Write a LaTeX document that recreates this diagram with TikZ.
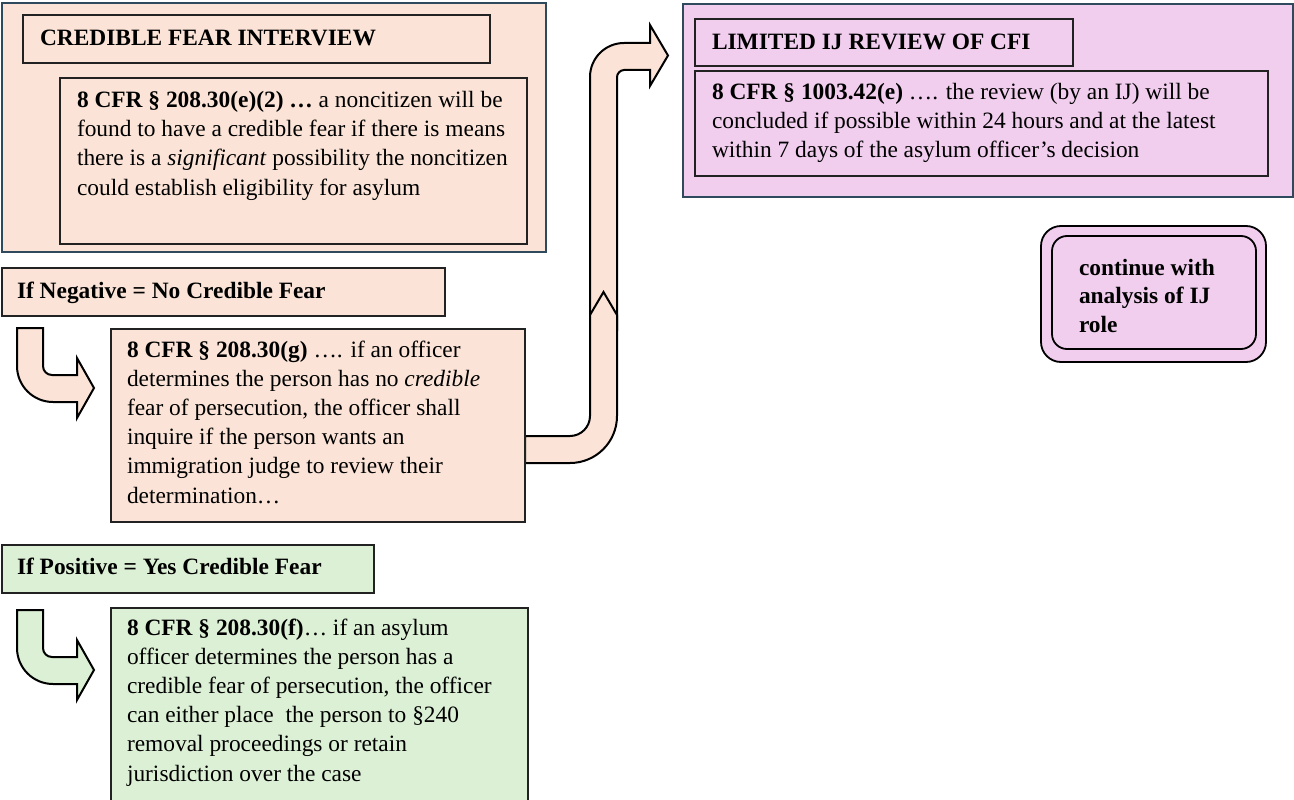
\documentclass[tikz,border=0pt]{standalone}
\usepackage{fontspec}
\setmainfont{Liberation Serif}
\definecolor{peach}{HTML}{FBE4D7}
\definecolor{mint}{HTML}{DCF0D5}
\definecolor{orchid}{HTML}{F1CDEE}
\definecolor{slate}{HTML}{2E4A5C}
\definecolor{ink}{HTML}{222222}
\newcommand\fst{\rule{0pt}{20pt}}
\tikzset{
  panel/.style={draw=slate, line width=2pt, inner sep=0pt, outer sep=0pt, anchor=north west},
  card/.style={draw=ink, line width=2.5pt, inner sep=0pt, outer sep=0pt, anchor=north west},
  txt/.style={inner sep=0pt, outer sep=0pt, anchor=north west, align=left,
    font=\fontsize{23.4}{29.2}\selectfont},
  blockarrow/.style={draw=black, line width=2pt, line join=miter, fill=#1},
}
\begin{document}
\begin{tikzpicture}[x=1pt,y=-1pt]
\useasboundingbox (0,0) rectangle (1294,800);
\clip (0,0) rectangle (1294,800);

% ---- block arrows ----
% bent arrow into the negative-finding card
\path[blockarrow=peach] (17,328) -- (43,328) -- (43,366)
  .. controls (43,371) and (47,375) .. (52,375) -- (77,375) -- (77,358)
  -- (94,388) -- (77,418) -- (77,402) -- (53,402)
  .. controls (33.1,402) and (17,385.9) .. (17,366) -- cycle;
% bent arrow into the positive-finding card
\begin{scope}[shift={(0,282)}]
\path[blockarrow=mint] (17,328) -- (43,328) -- (43,366)
  .. controls (43,371) and (47,375) .. (52,375) -- (77,375) -- (77,358)
  -- (94,388) -- (77,418) -- (77,402) -- (53,402)
  .. controls (33.1,402) and (17,385.9) .. (17,366) -- cycle;
\end{scope}
% long arrow to the IJ review: upper bend with head
\path[blockarrow=peach] (590,330) -- (590,77)
  .. controls (590,58.2) and (605.2,43) .. (624,43) -- (650,43) -- (650,25)
  -- (668,55.5) -- (650,86) -- (650,70) -- (624,70)
  .. controls (620.1,70) and (617,73.9) .. (617,77) -- (617,330) -- cycle;
% long arrow: lower bend leaving the card, pointed top
\path[blockarrow=peach] (525,436) -- (570,436)
  .. controls (581,436) and (590,427) .. (590,416) -- (590,315)
  -- (603.5,292) -- (617,315) -- (617,416)
  .. controls (617,442) and (596,463) .. (570,463) -- (525,463) -- cycle;

% ---- credible fear interview ----
\node[panel, fill=peach, minimum width=544pt, minimum height=249pt] (cfi) at (2,3) {};
\node[card, fill=peach, minimum width=467pt, minimum height=48pt] (cfititle) at (23,15) {};
\node[card, fill=peach, minimum width=467pt, minimum height=166pt] (cfibody) at (60,78) {};
\node[txt] (cfititletext) at (40,26) {\fst\textbf{CREDIBLE FEAR INTERVIEW}};
\node[txt] (cfibodytext) at (77,87.5) {\fst\textbf{8 CFR § 208.30(e)(2) …} a noncitizen will be\\
  found to have a credible fear if there is means\\
  there is a \textit{significant} possibility the noncitizen\\
  could establish eligibility for asylum};

% ---- negative finding ----
\node[card, fill=peach, minimum width=443pt, minimum height=48pt] (neg) at (2,268) {};
\node[card, fill=peach, minimum width=414pt, minimum height=193pt] (negbody) at (111,329) {};
\node[txt] (negtext) at (17,278) {\fst\textbf{If Negative = No Credible Fear}};
\node[txt] (negbodytext) at (127,337) {\fst\textbf{8 CFR § 208.30(g)} …. if an officer\\
  determines the person has no \textit{credible}\\
  fear of persecution, the officer shall\\
  inquire if the person wants an\\
  immigration judge to review their\\
  determination…};

% ---- positive finding ----
\node[card, fill=mint, minimum width=372pt, minimum height=48pt] (pos) at (2,545) {};
\node[card, fill=mint, minimum width=417pt, minimum height=230pt] (posbody) at (111,608) {};
\node[txt] (postext) at (17,554) {\fst\textbf{If Positive = Yes Credible Fear}};
\node[txt] (posbodytext) at (127,615) {\fst\textbf{8 CFR § 208.30(f)}… if an asylum\\
  officer determines the person has a\\
  credible fear of persecution, the officer\\
  can either place~ the person to §240\\
  removal proceedings or retain\\
  jurisdiction over the case};

% ---- limited IJ review ----
\node[panel, fill=orchid, minimum width=610pt, minimum height=193pt] (ij) at (683,4) {};
\node[card, fill=orchid, minimum width=378pt, minimum height=47pt] (ijtitle) at (695,19) {};
\node[card, fill=orchid, minimum width=573pt, minimum height=105pt] (ijbody) at (695,71) {};
\node[txt] (ijtitletext) at (712,30) {\fst\textbf{LIMITED IJ REVIEW OF CFI}};
\node[txt] (ijbodytext) at (712,79) {\fst\textbf{8 CFR § 1003.42(e)} …. the review (by an IJ) will be\\
  concluded if possible within 24 hours and at the latest\\
  within 7 days of the asylum officer’s decision};

% ---- next step ----
\node[draw=black, line width=1.8pt, fill=orchid, rounded corners=20pt, inner sep=0pt, outer sep=0pt,
  anchor=north west, minimum width=225pt, minimum height=136pt] (next) at (1041,226) {};
\node[draw=black, line width=1.8pt, rounded corners=15pt, inner sep=0pt, outer sep=0pt,
  anchor=north west, minimum width=204pt, minimum height=113pt] (nextinner) at (1052,236) {};
\node[txt, font=\fontsize{23.4}{28.5}\selectfont] (nexttext) at (1079,255)
  {\fst\textbf{continue with}\\ \textbf{analysis of IJ}\\ \textbf{role}};
\end{tikzpicture}
\end{document}
